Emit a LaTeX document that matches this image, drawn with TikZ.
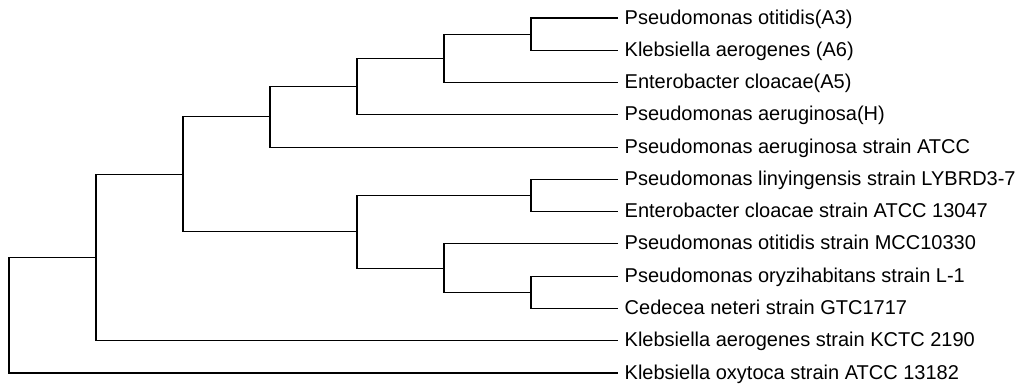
\documentclass[tikz,border=0pt]{standalone}
\usepackage{fontspec}
\setmainfont{Liberation Sans}
\begin{document}
\begin{tikzpicture}[x=1pt,y=-1pt,
  leaf/.style={anchor=west,inner xsep=6.5pt,inner ysep=0pt,text height=14pt,text depth=2pt,
    font=\fontsize{20}{24}\selectfont,text=black},
  branch/.style={draw=black,line width=1.05pt}]
\useasboundingbox (0,0) rectangle (1019,383);
% leaves
\node[leaf] (t1)  at (618,18.0)  {Pseudomonas otitidis(A3)};
\node[leaf] (t2)  at (618,50.3)  {Klebsiella aerogenes (A6)};
\node[leaf] (t3)  at (618,82.5)  {Enterobacter cloacae(A5)};
\node[leaf] (t4)  at (618,114.8) {Pseudomonas aeruginosa(H)};
\node[leaf] (t5)  at (618,147.1) {Pseudomonas aeruginosa strain ATCC};
\node[leaf] (t6)  at (618,179.4) {Pseudomonas linyingensis strain LYBRD3-7};
\node[leaf] (t7)  at (618,211.6) {Enterobacter cloacae strain ATCC 13047};
\node[leaf] (t8)  at (618,243.9) {Pseudomonas otitidis strain MCC10330};
\node[leaf] (t9)  at (618,276.2) {Pseudomonas oryzihabitans strain L-1};
\node[leaf] (t10) at (618,308.5) {Cedecea neteri strain GTC1717};
\node[leaf] (t11) at (618,340.7) {Klebsiella aerogenes strain KCTC 2190};
\node[leaf] (t12) at (618,373.0) {Klebsiella oxytoca strain ATCC 13182};
% internal nodes
\coordinate (n1)   at (531,34.1);
\coordinate (n2)   at (444,58.3);
\coordinate (n3)   at (357,86.6);
\coordinate (n4)   at (270,116.8);
\coordinate (n5)   at (531,195.5);
\coordinate (n6)   at (531,292.3);
\coordinate (n7)   at (444,268.1);
\coordinate (n8)   at (357,231.8);
\coordinate (n9)   at (183,174.3);
\coordinate (n10)  at (96,257.5);
\coordinate (root) at (9,315.3);
% branches
\draw[branch] (t1.west) -| (n1) |- (t2.west);
\draw[branch] (n1) -| (n2) |- (t3.west);
\draw[branch] (n2) -| (n3) |- (t4.west);
\draw[branch] (n3) -| (n4) |- (t5.west);
\draw[branch] (t6.west) -| (n5) |- (t7.west);
\draw[branch] (t9.west) -| (n6) |- (t10.west);
\draw[branch] (t8.west) -| (n7) |- (n6);
\draw[branch] (n5) -| (n8) |- (n7);
\draw[branch] (n4) -| (n9) |- (n8);
\draw[branch] (n9) -| (n10) |- (t11.west);
\draw[branch] (n10) -| (root) |- (t12.west);
\end{tikzpicture}
\end{document}
